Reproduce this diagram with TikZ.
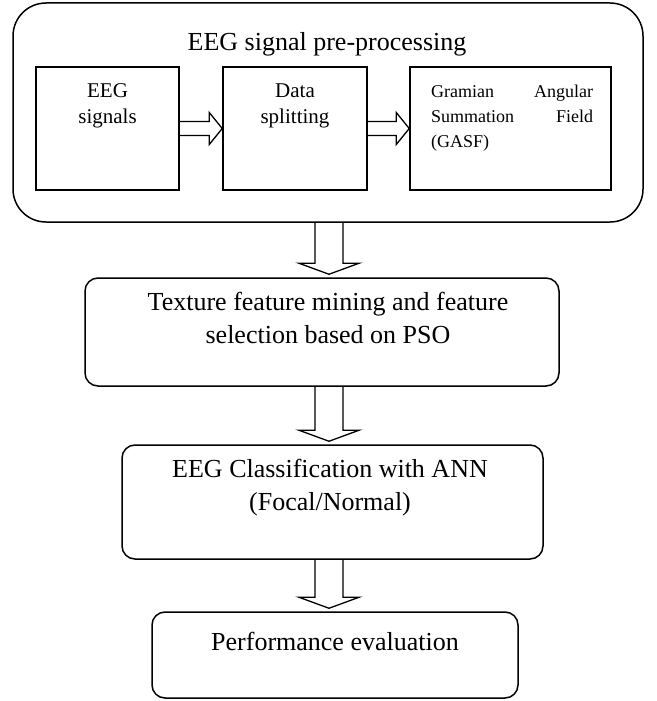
\documentclass[tikz,border=0pt]{standalone}
\usepackage{fontspec}
\setmainfont{Liberation Serif}
\usetikzlibrary{positioning,calc}
\newcommand{\drawbox}{\node[draw,rectangle,line width=1.5pt,inner sep=0]}
\newcommand{\drawround}{\node[draw,rectangle,rounded corners=13pt,line width=1.5pt,inner sep=0]}
\newcommand{\drawlabel}{\node[inner sep=0,anchor=base,align=center]}
\newcommand{\bigtext}{\fontsize{26}{33}\selectfont}
\newcommand{\smalltext}{\fontsize{21}{26}\selectfont}
\tikzset{blockarrow/.style={draw,line width=1.3pt,line join=miter}}
\newcommand{\downblock}[2]{%
\draw[blockarrow] let \p1=(#1.south), \p2=(#2.north), \p3=(spine) in
 (\x3-14,\y1) -- (\x3-14,\y2+14) -- (\x3-30,\y2+14) -- (\x3,\y2+3)
 -- (\x3+30,\y2+14) -- (\x3+14,\y2+14) -- (\x3+14,\y1);}
\newcommand{\rightblock}[2]{%
\draw[blockarrow] let \p1=(#1.east), \p2=(#2.west) in
 (\x1,\y1+7) -- (\x2-13,\y1+7) -- (\x2-13,\y1+16) -- (\x2,\y1)
 -- (\x2-13,\y1-16) -- (\x2-13,\y1-7) -- (\x1,\y1-7);}

\begin{document}
\begin{tikzpicture}[x=1pt, y=-1pt]
\useasboundingbox (0,0) rectangle (656,701);
%pre-processing stage
\drawround[rounded corners=33pt, minimum width=630, minimum height=219] (pre) at (328,112.5) {};
\drawlabel[font=\bigtext] (pretitle) at (327,51) {EEG signal pre-processing};
\drawbox[minimum width=143, minimum height=123] (signals) at (107.5,128.5) {};
\drawbox[minimum width=144, minimum height=123] (split) at (295,128.5) {};
\drawbox[minimum width=201, minimum height=123] (gasf) at (510.5,128.5) {};
\drawlabel[font=\smalltext] (signalstext) at (107.5,123) {EEG\\signals};
\drawlabel[font=\smalltext] (splittext) at (295,123) {Data\\splitting};
\node[inner sep=0, anchor=base west, align=left, font=\fontsize{18}{25}\selectfont] (gasftext) at (431,147)
 {\makebox[162pt][s]{Gramian Angular}\\\makebox[162pt][s]{Summation Field}\\(GASF)};
\rightblock{signals}{split}
\rightblock{split}{gasf}
%later stages
\coordinate (spine) at (329,0);
\drawround[minimum width=474, minimum height=108] (texture) at (322,332) {};
\drawlabel[font=\bigtext] (texturetext) at (328,343) {Texture feature mining and feature\\selection based on PSO};
\drawround[minimum width=421, minimum height=114] (classify) at (332.5,502) {};
\drawlabel[font=\bigtext] (classifytext) at (330,510) {EEG Classification with ANN\\(Focal/Normal)};
\drawround[minimum width=366, minimum height=86] (perf) at (335,655) {};
\drawlabel[font=\bigtext] (perftext) at (335,650) {Performance evaluation};
\downblock{pre}{texture}
\downblock{texture}{classify}
\downblock{classify}{perf}
\end{tikzpicture}
\end{document}
